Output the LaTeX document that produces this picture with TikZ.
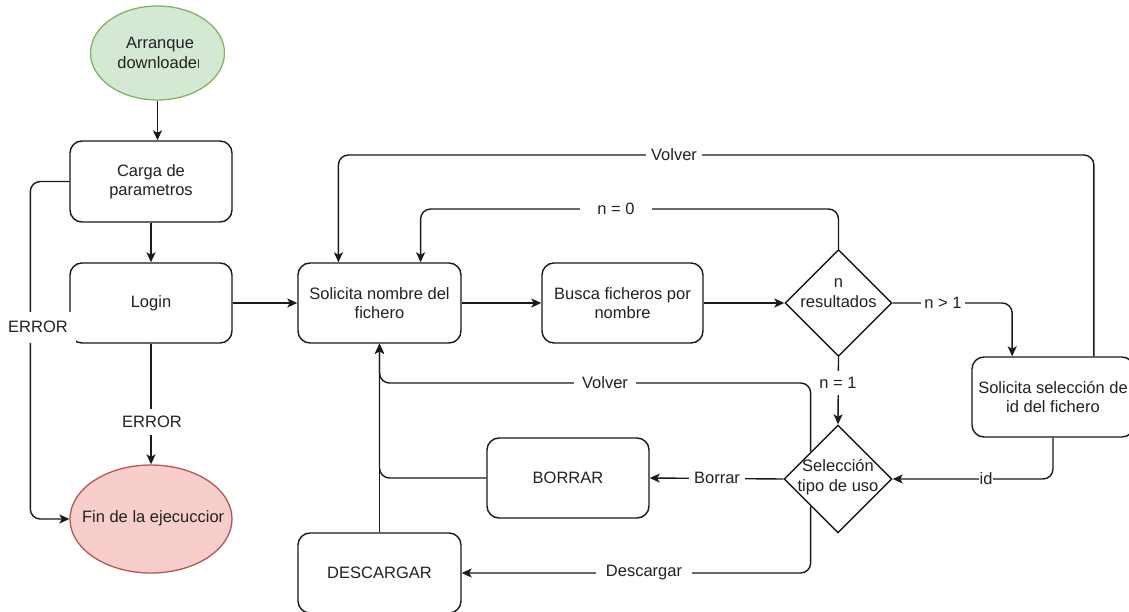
\documentclass[tikz,border=0pt]{standalone}
\usepackage{fontspec}
\setmainfont{Liberation Sans}
\usetikzlibrary{shapes.geometric,arrows.meta,calc}

\definecolor{startfill}{HTML}{D5E8D4}
\definecolor{startline}{HTML}{82B366}
\definecolor{endfill}{HTML}{F8CECC}
\definecolor{endline}{HTML}{B85450}
\definecolor{ink}{HTML}{1A1A1A}
\definecolor{txtc}{HTML}{222222}

\tikzset{
  every node/.style={font=\fontsize{16.5}{19.5}\selectfont, text=txtc},
  proc/.style={draw=ink, line width=1.4pt, rounded corners=12pt, fill=white,
    minimum width=163pt, minimum height=80pt, align=center, inner sep=0pt},
  terminal/.style={ellipse, line width=1.3pt, inner sep=0pt},
  decision/.style={diamond, draw=ink, line width=1.4pt, fill=white,
    minimum width=107pt, minimum height=107pt, inner sep=0pt},
  txt/.style={align=center, inner sep=0pt},
  flow/.style={draw=ink, line width=1.4pt, rounded corners=10pt,
    -{Stealth[length=10pt,width=9pt,inset=2.5pt]}},
  lbl/.style={fill=white, inner ysep=3pt, inner xsep=4pt},
}

\begin{document}
\begin{tikzpicture}[x=1pt, y=-1pt]
\useasboundingbox[fill=white] (0,0) rectangle (1129,612);

% horizontal tracks used by the return connectors
\coordinate (trackA) at (0,155);
\coordinate (trackB) at (0,209);
\coordinate (trackC) at (0,383);

% shapes
\node[terminal, draw=startline, fill=startfill, minimum width=134pt, minimum height=94pt] (start) at (157.5,53) {};
\node[proc, minimum width=162pt, minimum height=81pt] (carga) at (151,181.5) {Carga de\\parametros};
\node[proc, minimum width=162pt] (login) at (151,303) {Login};
\node[terminal, draw=endline, fill=endfill, minimum width=162pt, minimum height=108pt] (fin) at (151,519) {};
\node[proc] (pide) at (379.5,303) {Solicita nombre del\\fichero};
\node[proc, minimum width=161pt] (busca) at (622.5,303) {Busca ficheros por\\nombre};
\node[decision] (res) at (838.5,303) {};
\node[proc, minimum width=162pt] (pideid) at (1053,397) {Solicita selección de\\id del fichero};
\node[decision, minimum width=108pt, minimum height=108pt] (uso) at (838,479) {};
\node[proc, minimum width=162pt] (borrar) at (568,478) {BORRAR};
\node[proc] (descargar) at (379.5,573) {DESCARGAR};

% texts of the terminals and decisions (terminal texts are clipped to their text area)
\begin{scope}
  \clip (80,0) rectangle (198.5,110);
  \node[txt] (starttext) at (160,53) {Arranque\\downloader};
\end{scope}
\begin{scope}
  \clip (60,470) rectangle (223,570);
  \node[txt] (fintext) at (155,518) {Fin de la ejecuccion};
\end{scope}
\node[txt] (restext) at (838.5,293) {n\\resultados};
\node[txt] (usotext) at (838,477) {Selección\\tipo de uso};

% anchor points on the box tops and diamond sides
\coordinate (inA) at ($(pide.north west)!0.25!(pide.north east)$);
\coordinate (inB) at ($(pide.north west)!0.75!(pide.north east)$);
\coordinate (outA) at ($(pideid.north west)!0.75!(pideid.north east)$);
\coordinate (inC) at ($(pideid.north west)!0.25!(pideid.north east)$);
\coordinate (usoUL) at ($(uso.west)!0.5!(uso.north)$);
\coordinate (usoLL) at ($(uso.west)!0.5!(uso.south)$);

% connectors
\draw[flow] (start.south) -- (start.south |- carga.north);
\draw[flow] (carga.south) -- (login.north);
\draw[flow] (carga.west) -- ++(-39,0) |- (fin.west);
\draw[flow] (login.south) -- (fin.north);
\draw[flow] (login.east) -- (pide.west);
\draw[flow] (pide.east) -- (busca.west);
\draw[flow] (busca.east) -- (res.west);
\draw[flow] (res.north) -- (res.north |- trackB) -| (inB);
\draw[flow] (outA) -- (outA |- trackA) -| (inA);
\draw[flow] (res.east) -| (inC);
\draw[flow] (res.south) -- (uso.north);
\draw[flow] (pideid.south) |- (uso.east);
\draw[flow] (uso.west) -- (borrar.east);
\draw[flow] (usoLL) |- (descargar.east);
\draw[flow] (usoUL) -- (usoUL |- trackC) -| (pide.south);
\draw[flow] (borrar.west) -| (pide.south);
\draw[flow] (descargar.north) -- (pide.south);

% connector labels
\node[lbl, inner xsep=5pt] (lvolA) at (674,155) {Volver};
\node[lbl, inner xsep=17.5pt] (ln0) at (616,209) {n = 0};
\node[lbl, inner xsep=3pt] (lgt) at (943,303) {n > 1};
\node[lbl, inner ysep=6pt] (ln1) at (838,383) {n = 1};
\node[lbl, inner xsep=1pt] (lid) at (986,479) {id};
\node[lbl, inner xsep=8pt] (lvolB) at (605,383) {Volver};
\node[lbl, inner xsep=5pt] (lborrar) at (717,478) {Borrar};
\node[lbl, inner xsep=10pt] (ldesc) at (644,573) {Descargar};
\node[lbl, inner ysep=7pt] (lerr2) at (152,422) {ERROR};
\node[lbl, inner xsep=8pt, minimum height=31pt] (lerr1) at (38,327) {ERROR};
\end{tikzpicture}
\end{document}
